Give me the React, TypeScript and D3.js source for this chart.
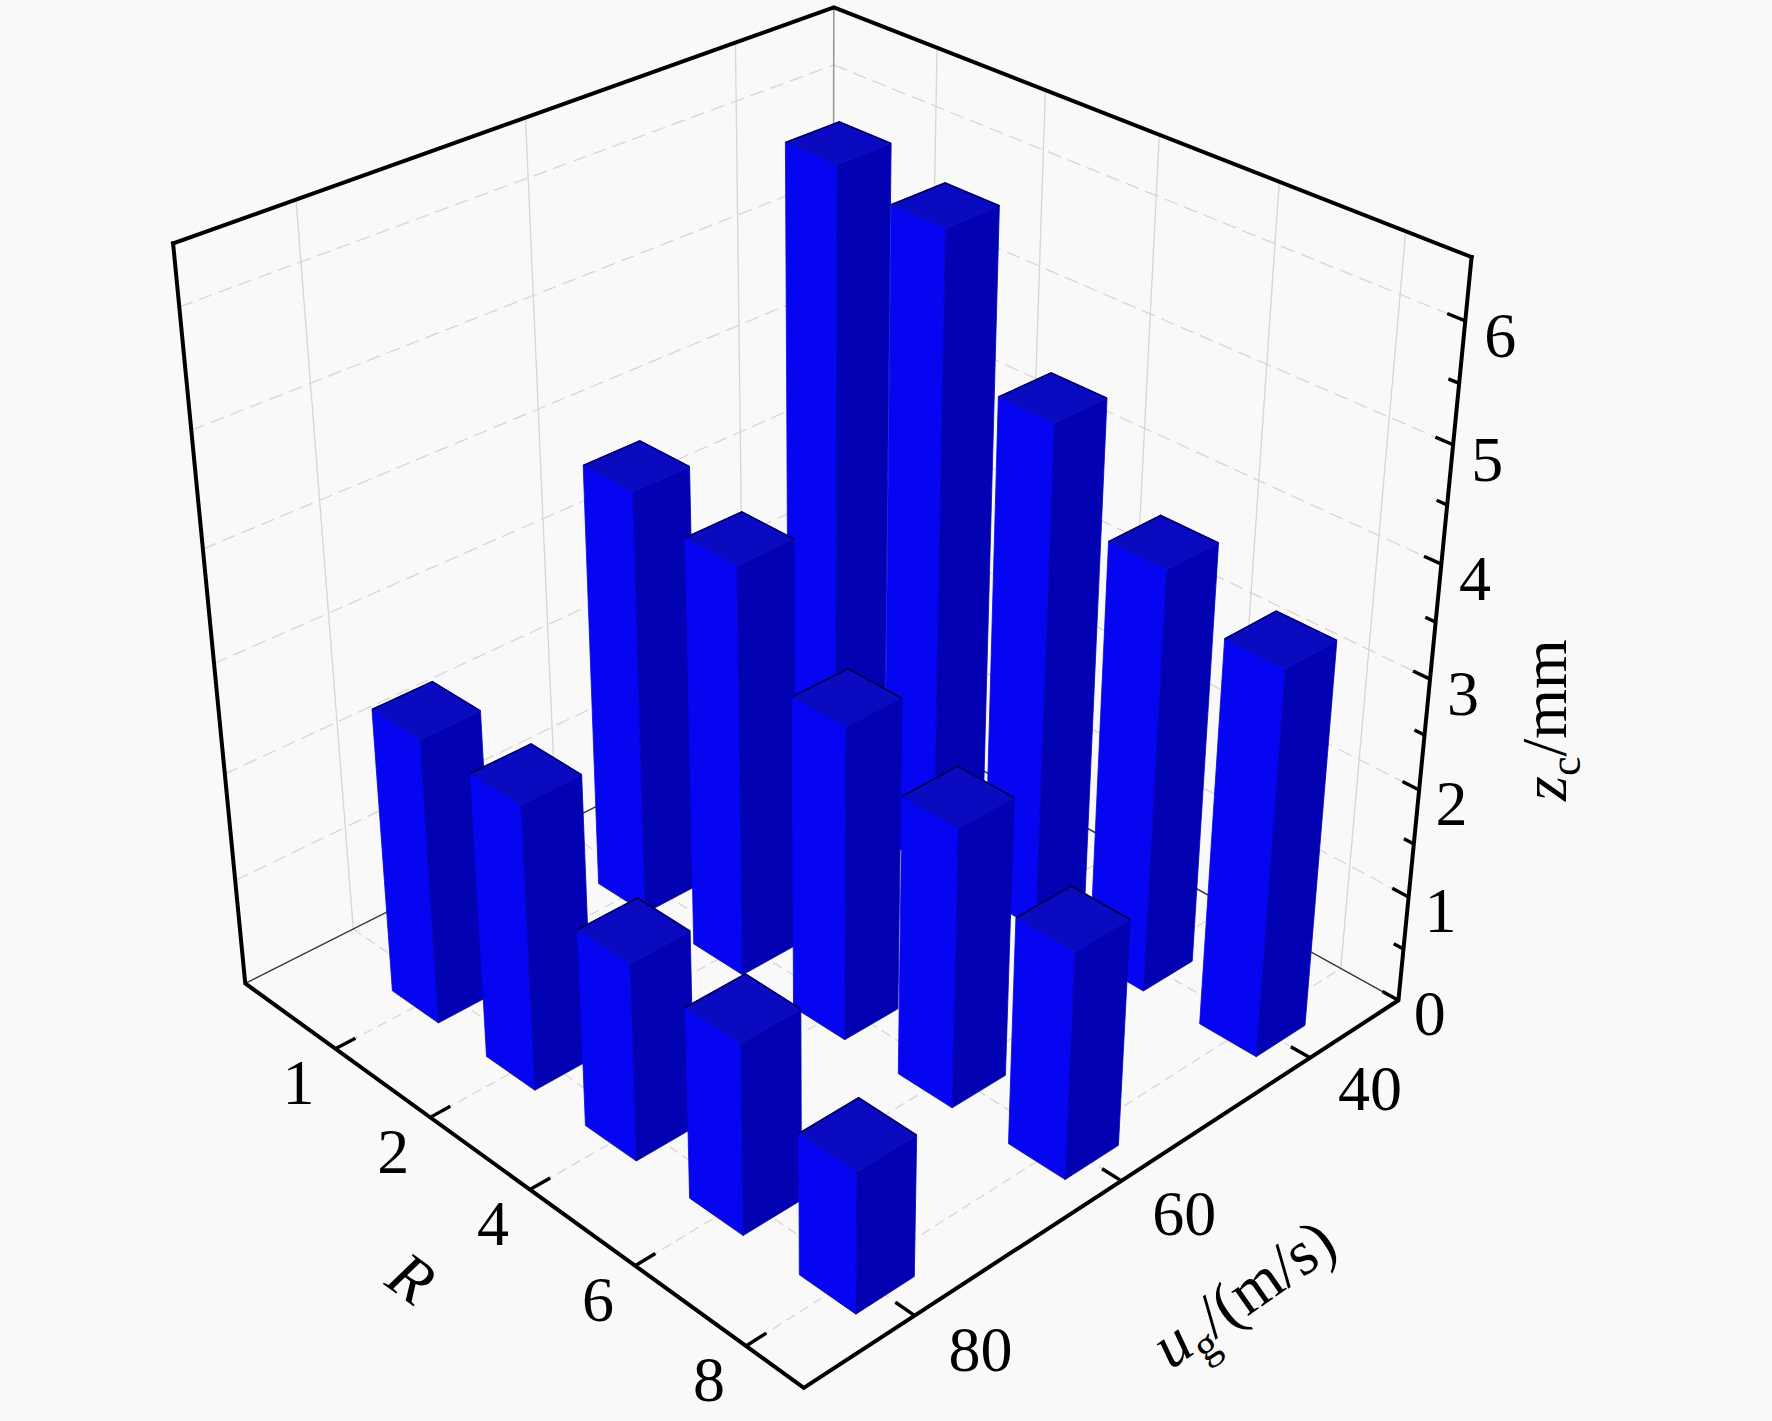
import { useEffect, useRef } from "react";
import * as d3 from "d3";

// categories along the two floor axes
const rCategories = ["1", "2", "4", "6", "8"];
const ugCategories = ["80", "60", "40"];

// z_c (mm) for each u_g row, one value per R
const zcAt80 = [2.65, 2.63, 1.82, 1.75, 1.29];
const zcAt60 = [3.95, 3.79, 2.9, 2.57, 2.08];
const zcAt40 = [6.01, 5.87, 4.66, 3.88, 3.54];

const zMajorTicks = [0, 1, 2, 3, 4, 5, 6];
const zMinorTicks = [0.5, 1.5, 2.5, 3.5, 4.5, 5.5];

const width = 1772;
const height = 1421;

const camera = { cx: 820, cy: 643, scale: 432, azimuth: 46.4, elevation: 31.2, distance: 8.74 };

type P3 = [number, number, number];

function project([x, y, z]: P3) {
  const a = (camera.azimuth * Math.PI) / 180;
  const e = (camera.elevation * Math.PI) / 180;
  const h = x * Math.cos(a) + y * Math.sin(a);
  const back = -x * Math.sin(a) + y * Math.cos(a);
  const up = z * Math.cos(e) + back * Math.sin(e);
  const depth = -back * Math.cos(e) + z * Math.sin(e);
  const f = camera.distance / (camera.distance - depth);
  return { x: camera.cx + camera.scale * f * h, y: camera.cy - camera.scale * f * up, f, back };
}

export default function App() {
  const svgRef = useRef<SVGSVGElement>(null);

  useEffect(() => {
    const svg = d3.select(svgRef.current).html(null);
    const font = "'Liberation Serif', 'Times New Roman', serif";

    // data units -> normalised box [-1, 1]
    const xScale = d3.scaleLinear().domain([0, 5.5]).range([-1, 1]);
    const yScale = d3.scaleLinear().domain([0.5, 3.5]).range([-1, 1]);
    const zScale = d3.scaleLinear().domain([0, 6.5]).range([-1, 1]);

    const toXY = (p: P3): [number, number] => {
      const q = project(p);
      return [q.x, q.y];
    };
    const line = d3.line();
    const seg = (p: P3, q: P3) => line([toXY(p), toXY(q)]) as string;
    const poly = (pts: P3[]) => line(pts.map(toXY)) as string;
    const face = (pts: P3[]) => poly(pts) + "Z";

    svg.append("rect").attr("width", width).attr("height", height).attr("fill", "#f9f9f9");

    // grid on the floor and the two back walls
    const grid = svg.append("g").attr("fill", "none").attr("stroke", "#d6d6d6").attr("stroke-width", 1.3);
    rCategories.forEach((_, i) => {
      const x = xScale(i + 1);
      grid.append("path").attr("d", seg([x, 1, -1], [x, 1, 1]));
      grid.append("path").attr("d", seg([x, -1, -1], [x, 1, -1])).attr("stroke-dasharray", "10,6");
    });
    ugCategories.forEach((_, j) => {
      const y = yScale(j + 1);
      grid.append("path").attr("d", seg([-1, y, -1], [-1, y, 1]));
      grid.append("path").attr("d", seg([-1, y, -1], [1, y, -1])).attr("stroke-dasharray", "10,6");
    });
    zMajorTicks.filter((t) => t > 0).forEach((t) => {
      const z = zScale(t);
      grid.append("path").attr("d", seg([-1, -1, z], [-1, 1, z])).attr("stroke-dasharray", "14,7");
      grid.append("path").attr("d", seg([-1, 1, z], [1, 1, z])).attr("stroke-dasharray", "14,7");
    });

    // back edges of the box
    svg.append("path").attr("d", seg([-1, -1, -1], [-1, 1, -1])).attr("stroke", "#333").attr("stroke-width", 1.4);
    svg.append("path").attr("d", seg([-1, 1, -1], [1, 1, -1])).attr("stroke", "#333").attr("stroke-width", 1.4);
    svg.append("path").attr("d", seg([-1, 1, -1], [-1, 1, 1])).attr("stroke", "#999").attr("stroke-width", 1.6);

    // outer frame
    const frame = svg.append("g").attr("fill", "none").attr("stroke", "#000").attr("stroke-width", 4)
      .attr("stroke-linejoin", "miter").attr("stroke-linecap", "square");
    frame.append("path").attr("d", poly([[-1, -1, 1], [-1, -1, -1], [1, -1, -1], [1, 1, -1], [1, 1, 1]]));
    frame.append("path").attr("d", poly([[-1, -1, 1], [-1, 1, 1], [1, 1, 1]]));

    // bars, painted from the back to the front
    const rows = [zcAt80, zcAt60, zcAt40];
    const half = 0.09;
    const bars = rows.flatMap((row, j) =>
      row.map((v, i) => {
        const x = xScale(i + 1);
        const y = yScale(j + 1);
        return { x, y, top: zScale(v), back: project([x, y, 0]).back };
      })
    );
    bars.sort((a, b) => b.back - a.back);

    const barLayer = svg.append("g");
    bars.forEach((b) => {
      const z0 = -1;
      const zt = b.top;
      const x0 = b.x - half, x1 = b.x + half, y0 = b.y - half, y1 = b.y + half;
      const g = barLayer.append("g");
      g.append("path")
        .attr("d", face([[x0, y0, z0], [x1, y0, z0], [x1, y0, zt], [x0, y0, zt]]))
        .attr("fill", "#0505f2").attr("stroke", "#0505f2").attr("stroke-width", 0.8);
      g.append("path")
        .attr("d", face([[x1, y0, z0], [x1, y1, z0], [x1, y1, zt], [x1, y0, zt]]))
        .attr("fill", "#0202b2").attr("stroke", "#0202b2").attr("stroke-width", 0.8);
      g.append("path")
        .attr("d", face([[x0, y0, zt], [x1, y0, zt], [x1, y1, zt], [x0, y1, zt]]))
        .attr("fill", "#0a0ac0").attr("stroke", "#0a0ac0").attr("stroke-width", 0.8);
      g.append("path")
        .attr("d", poly([[x0, y0, zt], [x0, y1, zt], [x1, y1, zt]]))
        .attr("fill", "none").attr("stroke", "#000050").attr("stroke-width", 1.6);
    });

    // ticks
    const ticks = svg.append("g").attr("stroke", "#000").attr("stroke-width", 3.4);
    rCategories.forEach((_, i) => {
      const x = xScale(i + 1);
      ticks.append("path").attr("d", seg([x, -1, -1], [x, -0.94, -1]));
    });
    ugCategories.forEach((_, j) => {
      const y = yScale(j + 1);
      ticks.append("path").attr("d", seg([1, y, -1], [0.94, y, -1]));
    });
    zMajorTicks.forEach((t) => ticks.append("path").attr("d", seg([1, 1, zScale(t)], [0.95, 1, zScale(t)])));
    zMinorTicks.forEach((t) => ticks.append("path").attr("d", seg([1, 1, zScale(t)], [0.97, 1, zScale(t)])));

    // tick labels
    const labels = svg.append("g").attr("font-family", font).attr("font-size", 64).attr("fill", "#000")
      .attr("text-anchor", "middle").attr("dominant-baseline", "central");
    rCategories.forEach((label, i) => {
      const p = project([xScale(i + 1), -1, -1]);
      labels.append("text").attr("x", p.x - 37).attr("y", p.y + 34).text(label);
    });
    ugCategories.forEach((label, j) => {
      const p = project([1, yScale(j + 1), -1]);
      labels.append("text").attr("x", p.x + 62 * p.f).attr("y", p.y + 32 * p.f).text(label);
    });
    zMajorTicks.forEach((t) => {
      const p = project([1, 1, zScale(t)]);
      labels.append("text").attr("x", p.x + 33 * p.f).attr("y", p.y + 14 * p.f).text(String(t));
    });

    // axis titles
    const rAnchor = project([xScale(2.5), -1, -1]);
    svg.append("text")
      .attr("font-family", font).attr("font-size", 64).attr("font-style", "italic")
      .attr("text-anchor", "middle").attr("dominant-baseline", "central")
      .attr("transform", `translate(${rAnchor.x - 68},${rAnchor.y + 125}) rotate(36)`)
      .text("R");

    const ugAnchor = project([1, yScale(2), -1]);
    const ugTitle = svg.append("text")
      .attr("font-family", font).attr("font-size", 64).attr("text-anchor", "middle")
      .attr("transform", `translate(${ugAnchor.x + 134},${ugAnchor.y + 130}) rotate(-35)`);
    ugTitle.append("tspan").attr("font-style", "italic").text("u");
    ugTitle.append("tspan").attr("font-size", 44).attr("dy", 14).text("g");
    ugTitle.append("tspan").attr("dy", -14).text("/(m/s)");

    const zAnchor = project([1, 1, zScale(3)]);
    const zTitle = svg.append("text")
      .attr("font-family", font).attr("font-size", 64).attr("text-anchor", "middle")
      .attr("transform", `translate(${zAnchor.x + 136},${zAnchor.y + 41}) rotate(-90)`);
    zTitle.append("tspan").attr("font-style", "italic").text("z");
    zTitle.append("tspan").attr("font-size", 44).attr("dy", 14).text("c");
    zTitle.append("tspan").attr("dy", -14).text("/mm");
  }, []);

  return (
    <>
      <style>{"body{margin:0;background:#f9f9f9}"}</style>
      <svg ref={svgRef} width={width} height={height} style={{ display: "block" }} />
    </>
  );
}
